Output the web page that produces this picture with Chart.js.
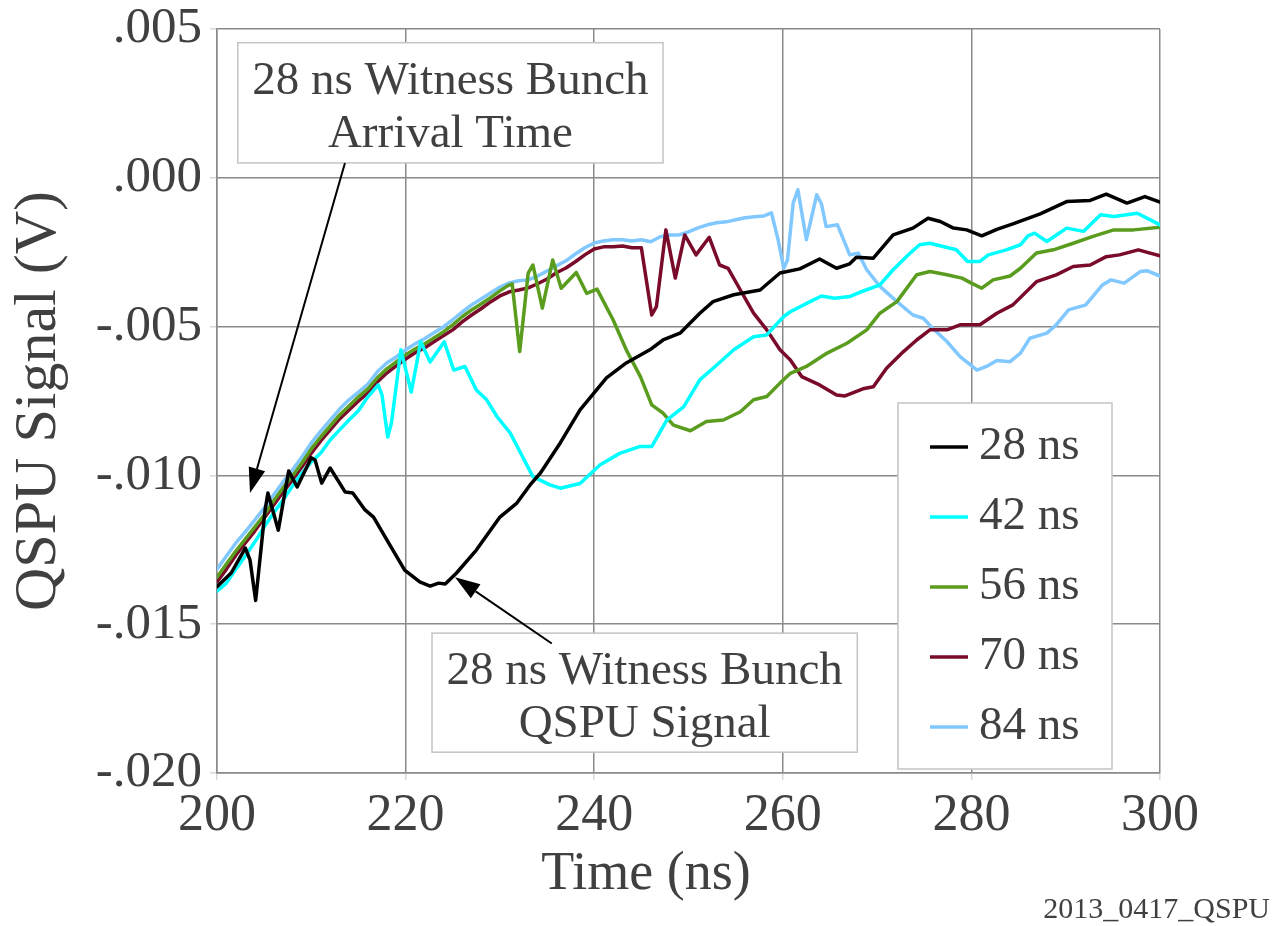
<!DOCTYPE html>
<html><head><meta charset="utf-8">
<script src="https://cdn.jsdelivr.net/npm/chart.js@4.4.1/dist/chart.umd.min.js"></script>
<style>html,body{margin:0;padding:0;background:#fff;}canvas{display:block;}</style>
</head><body>
<canvas id="c" width="1274" height="926"></canvas>
<script>
// ---- axis ticks ----
const xTickValues = [200, 220, 240, 260, 280, 300];
const yTickValues = [-0.020, -0.015, -0.010, -0.005, 0.000, 0.005];
const yTickLabels = ['-.020', '-.015', '-.010', '-.005', '.000', '.005'];

// ---- series names ----
const seriesNames = ['28 ns', '42 ns', '56 ns', '70 ns', '84 ns'];

// ---- series values: [time (ns), signal (mV)] ----
const s28 = [[200,-13.74],[201.5,-13.28],[203.0,-12.44],[203.5,-12.84],[204.1,-14.20],[205.1,-11.16],[205.4,-10.59],[206.5,-11.84],[207.6,-9.85],[208.5,-10.39],[210.0,-9.41],[210.4,-9.48],[211.1,-10.26],[212.0,-9.75],[213.6,-10.56],[214.4,-10.59],[215.7,-11.16],[216.6,-11.40],[218.2,-12.27],[219.9,-13.18],[221.5,-13.58],[222.6,-13.72],[223.5,-13.62],[224.2,-13.65],[225.4,-13.28],[227.5,-12.51],[230.0,-11.40],[231.8,-10.93],[233.2,-10.32],[234.3,-9.92],[236.4,-8.91],[238.5,-7.80],[241.3,-6.72],[243.4,-6.22],[245.9,-5.78],[247.3,-5.45],[249.1,-5.22],[251.2,-4.55],[252.6,-4.16],[254.8,-3.93],[257.6,-3.77],[259.7,-3.20],[261.8,-3.06],[263.9,-2.73],[265.7,-3.04],[267.1,-2.89],[267.8,-2.67],[269.6,-2.70],[271.7,-1.92],[273.8,-1.69],[275.4,-1.36],[276.7,-1.47],[278.1,-1.69],[279.5,-1.75],[281.1,-1.95],[282.7,-1.73],[284.4,-1.55],[287.3,-1.21],[290.1,-0.80],[292.6,-0.76],[294.3,-0.55],[296.5,-0.85],[298.4,-0.63],[300,-0.82]];

const s42 = [[200,-13.89],[201,-13.62],[202,-13.15],[203,-12.71],[204,-12.24],[205,-11.74],[206,-11.26],[207,-10.83],[208,-10.36],[209,-9.92],[210,-9.55],[211,-9.25],[212,-8.81],[213,-8.47],[214,-8.14],[215,-7.83],[216,-7.36],[217.1,-6.96],[217.5,-7.30],[218.1,-8.71],[218.5,-8.24],[219.5,-5.78],[220.6,-7.20],[221.6,-5.51],[222.6,-6.19],[224.1,-5.51],[225.1,-6.46],[226.3,-6.34],[227.5,-7.13],[228.6,-7.46],[229.7,-8.03],[231.1,-8.58],[232.5,-9.43],[233.5,-10.04],[235.3,-10.32],[236.4,-10.43],[238.5,-10.27],[240.6,-9.65],[242.7,-9.26],[244.8,-9.03],[246.1,-9.03],[247.7,-8.14],[249.5,-7.69],[251.2,-6.79],[253.0,-6.29],[254.8,-5.78],[256.9,-5.34],[258.3,-5.28],[260.1,-4.66],[260.8,-4.50],[262.9,-4.16],[264.1,-3.97],[265.5,-4.05],[267.1,-3.99],[268.4,-3.82],[270.3,-3.60],[271.7,-3.09],[273.1,-2.65],[274.5,-2.25],[275.6,-2.20],[277.0,-2.31],[278.4,-2.42],[279.6,-2.81],[280.9,-2.81],[281.8,-2.59],[283.7,-2.42],[285.2,-2.25],[286.0,-1.95],[286.7,-1.86],[288.0,-2.14],[290.1,-1.69],[291.9,-1.80],[293.7,-1.24],[295.1,-1.30],[297.6,-1.19],[300,-1.58]];

const s56 = [[200,-13.42],[201,-12.98],[202,-12.54],[203,-12.14],[204,-11.74],[205,-11.33],[206,-10.86],[207,-10.42],[208,-10.02],[209,-9.58],[210,-9.11],[211,-8.71],[212,-8.34],[213,-7.97],[214,-7.67],[215,-7.36],[216,-7.09],[217,-6.72],[218,-6.42],[219,-6.19],[220,-5.95],[221,-5.75],[222,-5.58],[223,-5.38],[224,-5.18],[225,-4.94],[226,-4.67],[227,-4.44],[228,-4.24],[229,-4.03],[230,-3.80],[230.8,-3.63],[231.3,-3.56],[232.1,-5.84],[233.0,-3.20],[233.5,-2.93],[234.5,-4.38],[235.6,-2.76],[236.5,-3.71],[238.1,-3.18],[239.2,-3.88],[240.3,-3.74],[242.0,-4.77],[243.4,-5.78],[244.9,-6.68],[246.1,-7.63],[247.3,-7.91],[248.4,-8.31],[250.2,-8.50],[251.9,-8.19],[253.7,-8.14],[255.5,-7.86],[256.9,-7.46],[258.3,-7.35],[259.7,-6.90],[260.8,-6.57],[262.5,-6.34],[264.7,-5.89],[266.8,-5.56],[268.9,-5.11],[270.3,-4.55],[272.1,-4.16],[274.2,-3.26],[275.6,-3.15],[277.4,-3.26],[279.0,-3.37],[280.0,-3.54],[281.1,-3.71],[282.3,-3.43],[284.1,-3.30],[285.2,-3.04],[286.9,-2.53],[288.7,-2.42],[290.8,-2.20],[292.9,-1.97],[295.1,-1.75],[297.2,-1.75],[300,-1.66]];

const s70 = [[200,-13.58],[201,-13.15],[202,-12.68],[203,-12.27],[204,-11.87],[205,-11.43],[206,-11.00],[207,-10.56],[208,-10.15],[209,-9.72],[210,-9.25],[211,-8.84],[212,-8.47],[213,-8.10],[214,-7.80],[215,-7.50],[216,-7.23],[217,-6.86],[218,-6.56],[219,-6.32],[220,-6.09],[221,-5.88],[222,-5.72],[223,-5.51],[224,-5.31],[225,-5.11],[226,-4.84],[227,-4.61],[228,-4.40],[229,-4.17],[230,-3.97],[231,-3.83],[232,-3.77],[233,-3.70],[234,-3.56],[235,-3.40],[236,-3.19],[237,-3.03],[238,-2.82],[239,-2.59],[240,-2.39],[241,-2.32],[242,-2.32],[243,-2.29],[244,-2.35],[245.0,-2.35],[246.1,-4.61],[246.6,-4.33],[247.6,-1.75],[248.6,-3.37],[249.6,-1.92],[250.8,-2.59],[252.2,-2.00],[253.3,-2.93],[254.2,-3.04],[255.5,-3.77],[256.9,-4.55],[258.3,-5.11],[259.7,-5.78],[260.8,-6.12],[262.0,-6.68],[263.9,-6.96],[265.7,-7.30],[266.6,-7.33],[268.5,-7.09],[269.6,-7.02],[271.0,-6.40],[272.8,-5.84],[274.2,-5.45],[275.6,-5.11],[277.4,-5.11],[278.8,-4.94],[280.9,-4.94],[282.7,-4.55],[284.4,-4.27],[286.9,-3.49],[289.0,-3.26],[290.8,-2.98],[292.6,-2.93],[294.3,-2.65],[295.7,-2.59],[297.7,-2.42],[300,-2.62]];

const s84 = [[200,-13.15],[201,-12.71],[202,-12.27],[203,-11.90],[204,-11.50],[205,-11.10],[206,-10.66],[207,-10.22],[208,-9.82],[209,-9.38],[210,-8.91],[211,-8.51],[212,-8.14],[213,-7.77],[214,-7.46],[215,-7.20],[216,-6.93],[217,-6.52],[218,-6.22],[219,-6.02],[220,-5.78],[221,-5.58],[222,-5.41],[223,-5.21],[224,-5.01],[225,-4.77],[226,-4.51],[227,-4.27],[228,-4.07],[229,-3.87],[230,-3.67],[231,-3.53],[232,-3.46],[233,-3.43],[234,-3.30],[235,-3.13],[236,-2.96],[237,-2.79],[238,-2.56],[239,-2.35],[240,-2.19],[241,-2.12],[242,-2.08],[243,-2.08],[244,-2.12],[245,-2.08],[246,-2.15],[247,-1.98],[248,-1.92],[249,-1.92],[250,-1.82],[251,-1.68],[252,-1.58],[253,-1.51],[254,-1.48],[255,-1.41],[256,-1.34],[257,-1.31],[258,-1.28],[258.8,-1.18],[259.5,-2.08],[260.1,-3.04],[260.5,-2.76],[261.1,-0.85],[261.6,-0.40],[262.5,-2.08],[263.6,-0.57],[264.1,-0.88],[264.6,-1.64],[265.8,-1.58],[267.1,-2.59],[268.0,-2.53],[268.9,-3.09],[270.3,-3.65],[272.1,-4.16],[273.8,-4.61],[274.9,-4.72],[275.9,-5.06],[277.4,-5.50],[278.8,-6.01],[280.6,-6.46],[281.6,-6.34],[282.7,-6.14],[284.1,-6.18],[285.2,-5.89],[286.2,-5.39],[288.0,-5.22],[289.0,-4.94],[290.3,-4.44],[291.5,-4.33],[292.1,-4.28],[293.9,-3.60],[294.8,-3.43],[296.2,-3.54],[297.9,-3.15],[298.6,-3.12],[300,-3.30]];

// ---- annotation texts and anchor points (time ns, mV) ----
const noteTexts = [['28 ns Witness Bunch', 'Arrival Time'], ['28 ns Witness Bunch', 'QSPU Signal']];
const noteBoxes = [[202.2, 247.3, 4.54, 0.50], [222.8, 267.9, -15.30, -19.30]];
const noteTails = [[213.57, 0.50], [235.5, -15.65]];
const noteTips  = [[203.5, -10.59], [225.24, -13.42]];

// ---- styles ----
const seriesColors = ['#000000', '#00ffff', '#5a9c1e', '#7a0a2a', '#80c8ff'];
const FONT = '"Liberation Serif", "Times New Roman", serif';
const TEXT = '#404040';
const GRID = '#8a8a8a';

const allSeries = [s28, s42, s56, s70, s84];

const overlay = {
  id: 'overlay',
  afterDraw(chart) {
    const { ctx, chartArea: ca, scales: { x, y } } = chart;
    ctx.save();
    noteTexts.forEach((lines, k) => {
      const b = noteBoxes[k];
      const l = x.getPixelForValue(b[0]), r = x.getPixelForValue(b[1]);
      const t = y.getPixelForValue(b[2] / 1000), bt = y.getPixelForValue(b[3] / 1000);
      ctx.fillStyle = '#ffffff';
      ctx.fillRect(l, t, r - l, bt - t);
      ctx.strokeStyle = '#c4c4c4';
      ctx.lineWidth = 1.5;
      ctx.strokeRect(l, t, r - l, bt - t);
      ctx.fillStyle = TEXT;
      ctx.font = '47px ' + FONT;
      ctx.textAlign = 'center';
      ctx.textBaseline = 'alphabetic';
      lines.forEach((s, i) => ctx.fillText(s, (l + r) / 2, t + 51 + i * 53));
      const x1 = x.getPixelForValue(noteTails[k][0]), y1 = y.getPixelForValue(noteTails[k][1] / 1000);
      const x2 = x.getPixelForValue(noteTips[k][0]), y2 = y.getPixelForValue(noteTips[k][1] / 1000);
      const ang = Math.atan2(y2 - y1, x2 - x1);
      const hl = 25, hw = 8.5;
      const bx = x2 - hl * Math.cos(ang), by = y2 - hl * Math.sin(ang);
      ctx.strokeStyle = '#000';
      ctx.lineWidth = 2;
      ctx.beginPath(); ctx.moveTo(x1, y1); ctx.lineTo(bx, by); ctx.stroke();
      ctx.fillStyle = '#000';
      ctx.beginPath();
      ctx.moveTo(x2, y2);
      ctx.lineTo(bx + hw * Math.sin(ang), by - hw * Math.cos(ang));
      ctx.lineTo(bx - hw * Math.sin(ang), by + hw * Math.cos(ang));
      ctx.closePath(); ctx.fill();
    });
    // legend
    const lx0 = ca.right - 262, lx1 = ca.right - 48, ly0 = ca.top + 374, ly1 = ca.bottom - 4;
    ctx.fillStyle = '#ffffff';
    ctx.fillRect(lx0, ly0, lx1 - lx0, ly1 - ly0);
    ctx.strokeStyle = '#c4c4c4';
    ctx.lineWidth = 1.5;
    ctx.strokeRect(lx0, ly0, lx1 - lx0, ly1 - ly0);
    chart.data.datasets.forEach((ds, i) => {
      const yy = ly0 + 44 + i * 70;
      ctx.strokeStyle = ds.borderColor;
      ctx.lineWidth = 3.5;
      ctx.beginPath(); ctx.moveTo(lx0 + 32, yy); ctx.lineTo(lx0 + 70, yy); ctx.stroke();
      ctx.fillStyle = TEXT;
      ctx.font = '47px ' + FONT;
      ctx.textAlign = 'left';
      ctx.textBaseline = 'middle';
      ctx.fillText(ds.label, lx0 + 81, yy);
    });
    // x-axis title
    ctx.fillStyle = TEXT;
    ctx.font = '54px ' + FONT;
    ctx.textAlign = 'center';
    ctx.textBaseline = 'alphabetic';
    ctx.fillText('Time (ns)', 646, 889);
    // footer id
    ctx.font = '30px ' + FONT;
    ctx.textAlign = 'right';
    ctx.fillText('2013_0417_QSPU', 1270, 918);
    ctx.restore();
  }
};

new Chart(document.getElementById('c'), {
  type: 'line',
  data: {
    datasets: allSeries.map((s, i) => ({
      label: seriesNames[i],
      data: s.map(p => ({ x: p[0], y: p[1] / 1000 })),
      borderColor: seriesColors[i],
      backgroundColor: seriesColors[i],
      borderWidth: 3.5,
      pointRadius: 0,
      tension: 0,
      fill: false,
      borderJoinStyle: 'round',
      borderCapStyle: 'round'
    }))
  },
  options: {
    responsive: false,
    animation: false,
    devicePixelRatio: 1,
    layout: { autoPadding: false, padding: { top: 29, right: 114, left: 0, bottom: 0 } },
    plugins: { legend: { display: false }, tooltip: { enabled: false } },
    scales: {
      x: {
        type: 'linear', min: 200, max: 300,
        afterBuildTicks: s => { s.ticks = xTickValues.map(v => ({ value: v })); },
        afterFit: s => { s.height = 153; s.paddingLeft = 0; s.paddingRight = 0; },
        ticks: { autoSkip: false, maxRotation: 0, padding: 5, color: TEXT, font: { family: FONT, size: 52 } },
        grid: { color: GRID, lineWidth: 1.5, tickLength: 7, tickColor: '#d8d8d8' },
        border: { color: GRID, width: 1.5 },
        title: { display: false }
      },
      y: {
        type: 'linear', min: -0.020, max: 0.005,
        afterBuildTicks: s => { s.ticks = yTickValues.map(v => ({ value: v })); },
        afterFit: s => { s.width = 217; s.paddingTop = 0; s.paddingBottom = 0; },
        ticks: { padding: 8, color: TEXT, font: { family: FONT, size: 51 },
                 callback: (v, i) => yTickLabels[i] },
        grid: { color: GRID, lineWidth: 1.5, tickLength: 7, tickColor: '#d8d8d8' },
        border: { color: GRID, width: 1.5 },
        title: { display: true, text: 'QSPU Signal (V)', color: TEXT, font: { family: FONT, size: 60 }, padding: { top: 3, bottom: 0 } }
      }
    }
  },
  plugins: [overlay]
});
</script>
</body></html>
